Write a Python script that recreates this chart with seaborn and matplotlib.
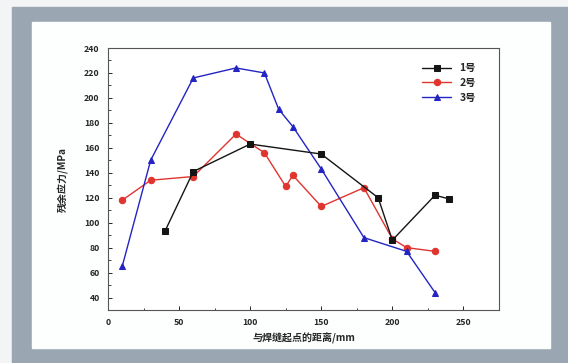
import matplotlib
matplotlib.use("Agg")
import matplotlib.pyplot as plt
from matplotlib.patches import Rectangle
from matplotlib.ticker import MultipleLocator
import seaborn as sns
import pandas as pd

# Residual stress measured along the weld for three specimens
x1 = [40, 60, 100, 150, 190, 200, 230, 240]
y1 = [93, 141, 163, 155, 120, 86, 122, 119]

x2 = [10, 30, 60, 90, 110, 125, 130, 150, 180, 200, 210, 230]
y2 = [118, 134, 137, 171, 156, 129, 138, 113, 128, 87, 80, 77]

x3 = [10, 30, 60, 90, 110, 120, 130, 150, 180, 210, 230]
y3 = [65, 150, 216, 224, 220, 191, 177, 143, 88, 77, 44]

labels = ["1号", "2号", "3号"]
colors = ["#151515", "#e0342e", "#2424c4"]
markers = ["s", "o", "^"]

sns.set_style("white")
plt.rcParams["font.family"] = ["Noto Sans CJK SC", "DejaVu Sans"]

fig = plt.figure(figsize=(5.68, 3.63), dpi=100)
fig.patch.set_facecolor("#f2f4f6")

# framed panel behind the chart
bg = fig.add_axes([0, 0, 1, 1], zorder=-5)
bg.set_axis_off()
bg.set_xlim(0, 568)
bg.set_ylim(363, 0)
bg.add_patch(Rectangle((12, 7), 556, 356, color="#9aa7b2"))
bg.add_patch(Rectangle((32, 22), 518, 326, color="#fdfefe"))

ax = fig.add_axes([108 / 568, (363 - 310) / 363, (499 - 108) / 568, (310 - 48) / 363])
ax.set_facecolor("white")

series = [(x1, y1), (x2, y2), (x3, y3)]
zs = [4, 3, 3]
for (xs, ys), lab, c, m, z in zip(series, labels, colors, markers, zs):
    df = pd.DataFrame({"x": xs, "y": ys})
    sns.lineplot(data=df, x="x", y="y", ax=ax, color=c, marker=m, markersize=4.6,
                 markeredgecolor=c, linewidth=1.0, label=lab, zorder=z, sort=False)

ax.set_xlim(0, 275)
ax.set_ylim(30, 240)
ax.xaxis.set_major_locator(MultipleLocator(50))
ax.xaxis.set_minor_locator(MultipleLocator(25))
ax.yaxis.set_minor_locator(MultipleLocator(10))
ax.set_yticks(range(40, 241, 20))
ax.tick_params(which="major", direction="in", length=3, width=0.7,
               labelsize=6.3, pad=6, left=True, bottom=True)
ax.tick_params(which="minor", direction="in", length=1.8, width=0.6,
               left=True, bottom=True)
for lbl in ax.get_xticklabels() + ax.get_yticklabels():
    lbl.set_fontweight("bold")

for sp in ax.spines.values():
    sp.set_color("#555555")
    sp.set_linewidth(0.8)

ax.set_xlabel("与焊缝起点的距离/mm", fontsize=7.2, fontweight="bold", labelpad=4)
ax.set_ylabel("残余应力/MPa", fontsize=7.2, fontweight="bold", labelpad=12)

leg = ax.legend(loc="upper right", frameon=False, fontsize=7.5, handlelength=2.8,
                labelspacing=0.45, bbox_to_anchor=(0.96, 0.97), borderaxespad=0.3)
for t in leg.get_texts():
    t.set_fontweight("bold")

fig.savefig("out.png", dpi=100, facecolor=fig.get_facecolor())
